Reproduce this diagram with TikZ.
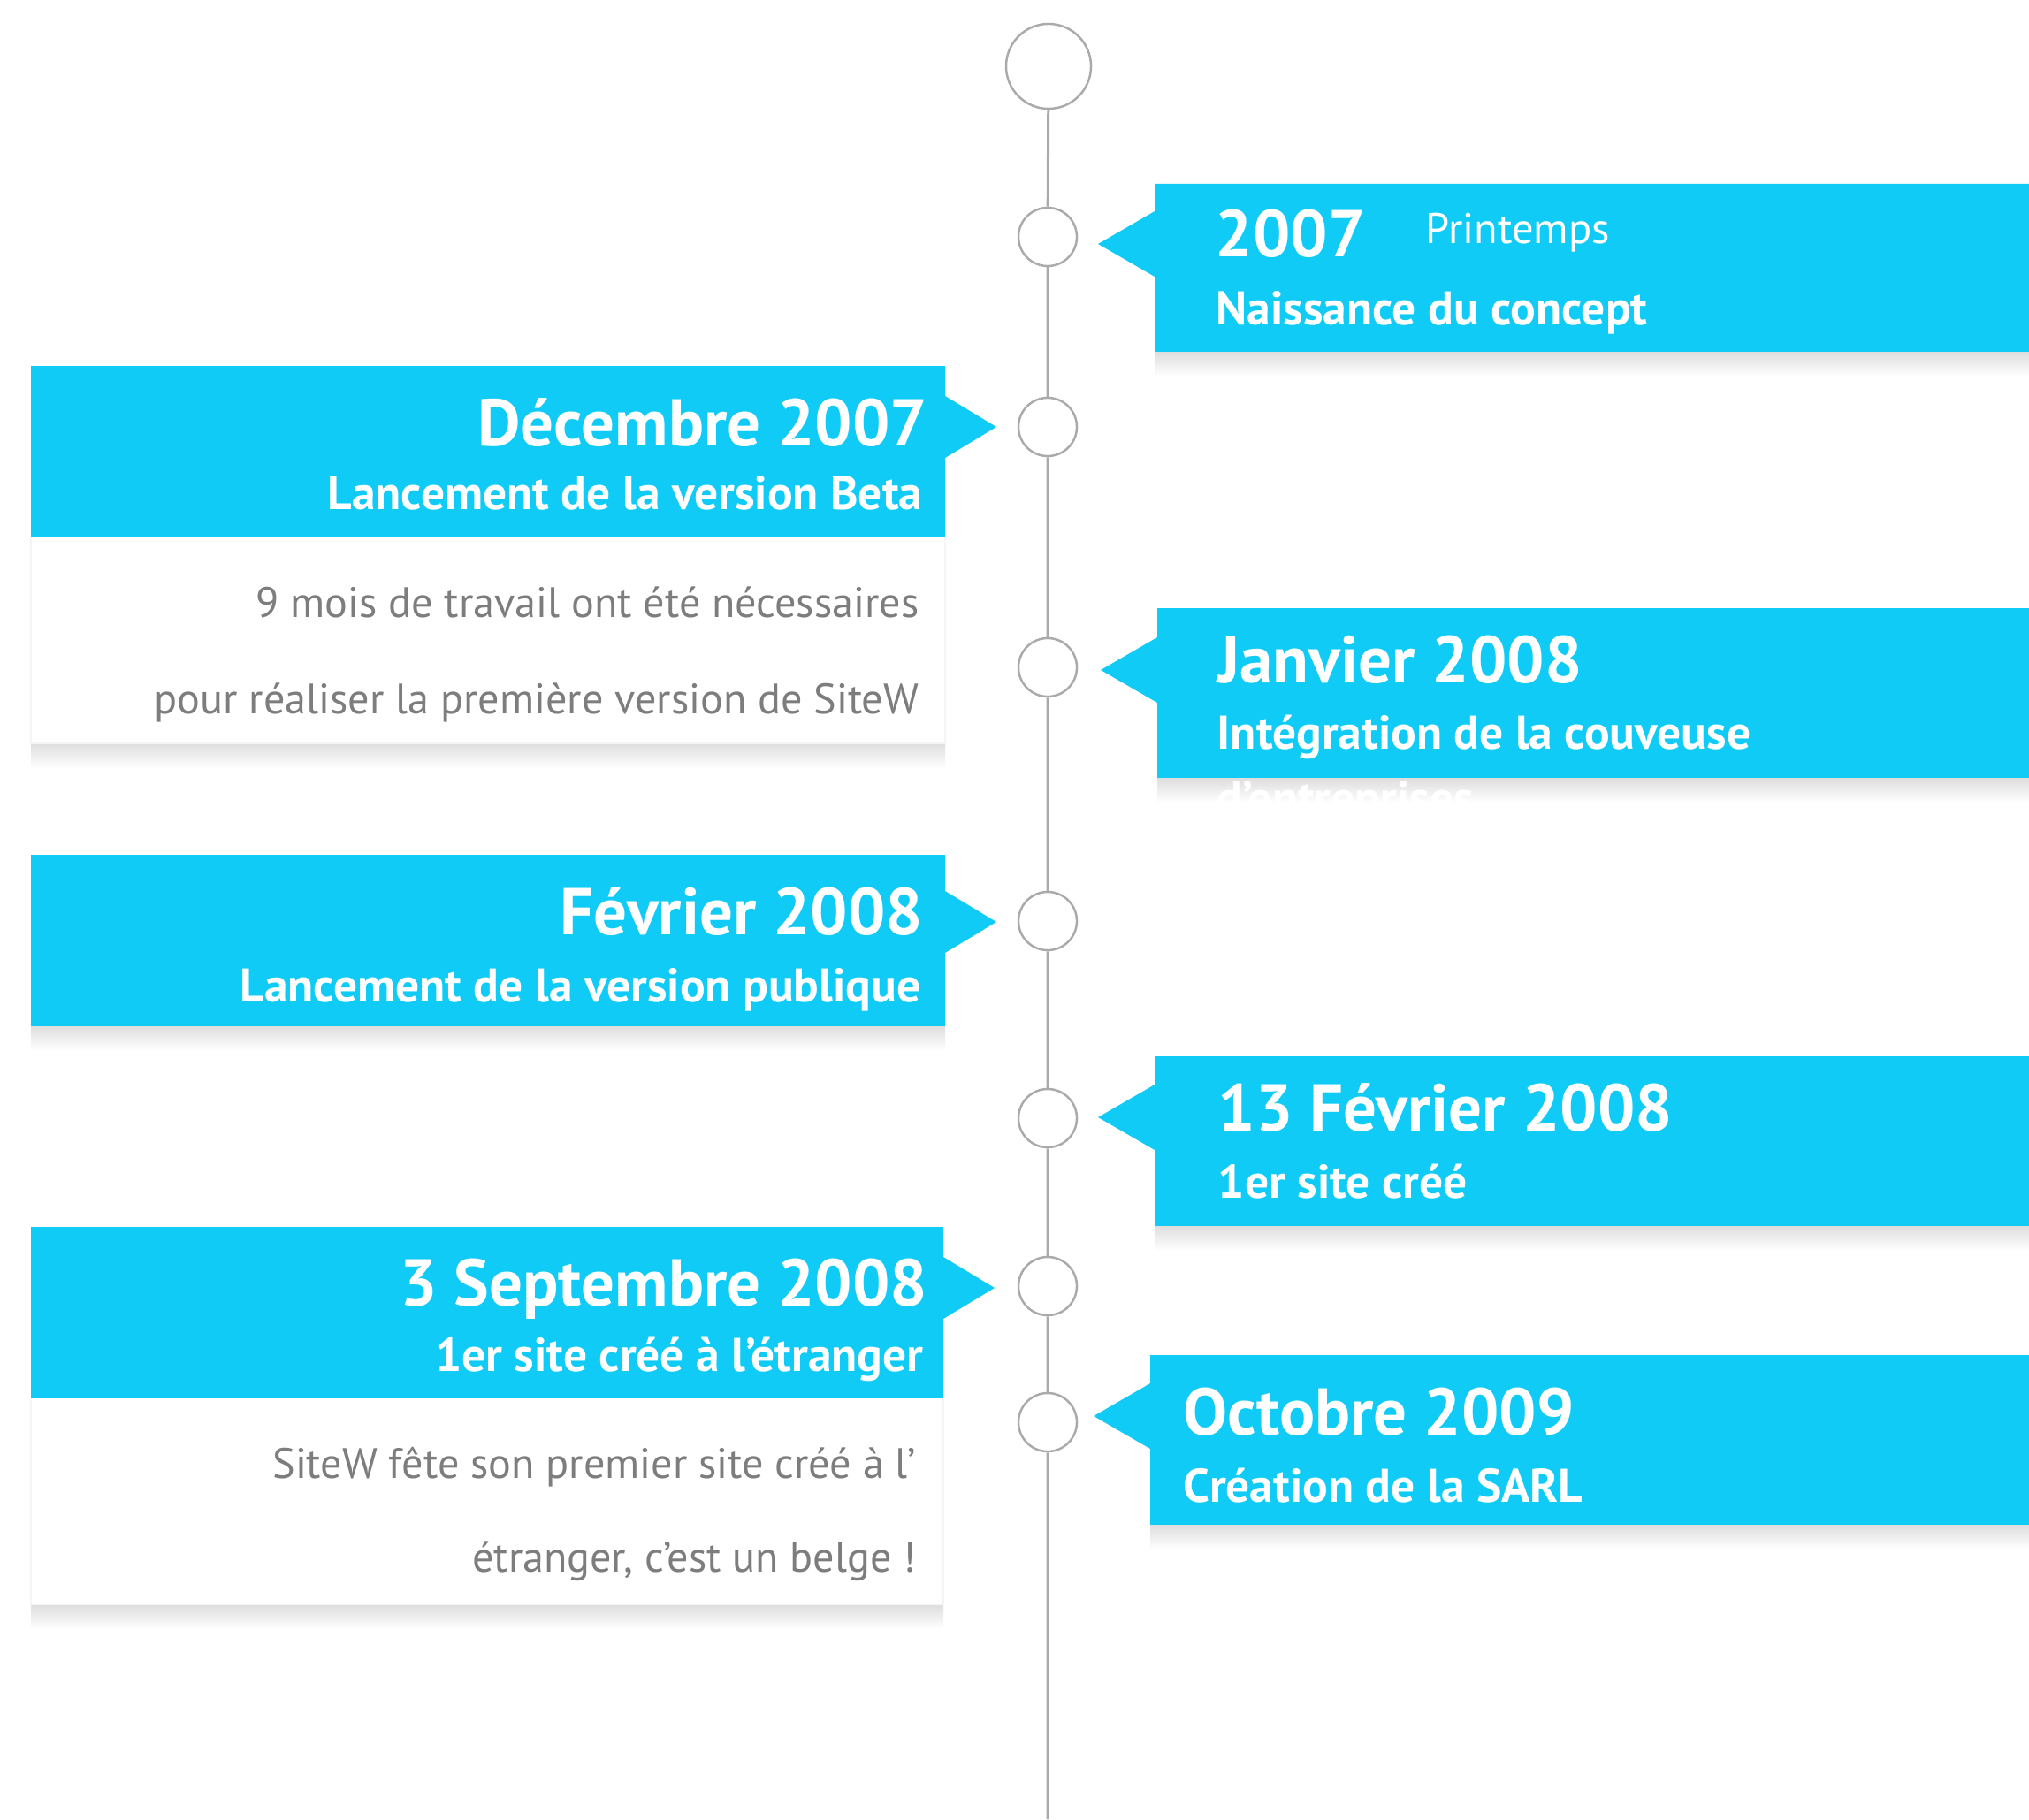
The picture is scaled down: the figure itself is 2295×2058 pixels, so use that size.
\documentclass[tikz,border=0pt]{standalone}
\usepackage{fontspec}
\setmainfont{PT Sans}
\usepackage{xcolor}
\usetikzlibrary{calc}
\definecolor{sitewblue}{RGB}{16,203,246}
\definecolor{linegray}{RGB}{170,170,170}
\definecolor{bodygray}{RGB}{125,125,125}
\tikzset{
	dot/.style={circle,draw=linegray,line width=0.7pt,fill=white,minimum size=0.66cm,inner sep=0pt},
	bigdot/.style={dot,minimum size=0.96cm},
	tl/.style={draw=linegray,line width=0.85pt},
	datetxt/.style={text=white,font=\fontsize{21.3}{25}\selectfont\bfseries,inner sep=0pt},
	subtxt/.style={text=white,font=\fontsize{15.2}{18}\selectfont\bfseries,inner sep=0pt},
	seasontxt/.style={text=white,font=\fontsize{13.8}{16}\selectfont,inner sep=0pt},
	bodytxt/.style={text=bodygray,font=\fontsize{13.7}{16}\selectfont,inner sep=0pt},
	shadow/.style={top color=black!13,bottom color=white,draw=none}
}

\begin{document}
\begin{tikzpicture}[x=0.01cm,y=-0.01cm]
	\useasboundingbox (0,0) rectangle (2295,2058);
	\fill[white] (0,0) rectangle (2295,2058);

	% boxes on the right
	\foreach \l/\t/\b/\ty in {1306/208/398/276,1309/688/880/758,1306/1195/1387/1264,1301/1533/1725/1602} {
		\fill[sitewblue] (\l,\t) -- (2295,\t) -- (2295,\b) -- (\l,\b) -- (\l,\ty+37) -- (\l-64,\ty) -- (\l,\ty-37) -- cycle;
		\shade[shadow] (\l,\b) rectangle (2295,\b+28);
	}
	% boxes on the left
	\foreach \r/\t/\b/\ty in {1069/414/608/483,1069/967/1161/1043,1067/1388/1582/1457} {
		\fill[sitewblue] (35,\t) -- (\r,\t) -- (\r,\ty-35) -- (\r+58,\ty) -- (\r,\ty+35) -- (\r,\b) -- (35,\b) -- cycle;
	}
	\shade[shadow] (35,1161) rectangle (1069,1189);
	% white panels
	\foreach \r/\t/\b in {1069/608/841,1067/1582/1815} {
		\shade[shadow] (35,\b) rectangle (\r,\b+28);
		\fill[white] (35,\t) rectangle (\r,\b);
		\draw[black!4,line width=0.3pt] (35,\t) -- (35,\b) -- (\r,\b) -- (\r,\t);
	}

	% timeline
	\node[bigdot] (c0) at (1186,75) {};
	\foreach \n/\y in {1/268,2/483,3/755,4/1042,5/1265,6/1455,7/1609}
		\node[dot] (c\n) at (1185,\y) {};
	\coordinate (tend) at (1185,2058);
	\draw[tl] (c0) -- (c1) -- (c2) -- (c3) -- (c4) -- (c5) -- (c6) -- (c7) -- (tend);

	% texts
	\node[datetxt,anchor=base west] (t2007) at (1374,291) {2007};
	\node[seasontxt,anchor=base west] (spring) at (1612,276) {Printemps};
	\node[subtxt,anchor=base west] (s2007) at (1375,367) {Naissance du concept};

	\node[datetxt,anchor=base east] (tdec) at (1050,504) {Décembre 2007};
	\node[subtxt,anchor=base east] (sdec) at (1044,576) {Lancement de la version Beta};
	\node[bodytxt,anchor=base east] (bdec1) at (1040,698) {9 mois de travail ont été nécessaires};
	\node[bodytxt,anchor=base east] (bdec2) at (1040,807) {pour réaliser la première version de SiteW};

	\node[datetxt,anchor=base west] (tjan) at (1377,772) {Janvier 2008};
	\node[subtxt,anchor=base west] (sjan) at (1376,847) {Intégration de la couveuse};
	\node[subtxt,anchor=base west] (sjan2) at (1376,921) {d’entreprises};

	\node[datetxt,anchor=base east] (tfev) at (1045,1057) {Février 2008};
	\node[subtxt,anchor=base east] (sfev) at (1042,1133) {Lancement de la version publique};

	\node[datetxt,anchor=base west] (tfev13) at (1377,1279) {13 Février 2008};
	\node[subtxt,anchor=base west] (sfev13) at (1377,1355) {1er site créé};

	\node[datetxt,anchor=base east] (tsep) at (1050,1477) {3 Septembre 2008};
	\node[subtxt,anchor=base east] (ssep) at (1045,1551) {1er site créé à l’étranger};
	\node[bodytxt,anchor=base east] (bsep1) at (1037,1672) {SiteW fête son premier site créé à l’};
	\node[bodytxt,anchor=base east] (bsep2) at (1037,1778) {étranger, c’est un belge !};

	\node[datetxt,anchor=base west] (toct) at (1338,1623) {Octobre 2009};
	\node[subtxt,anchor=base west] (soct) at (1338,1699) {Création de la SARL};
\end{tikzpicture}
\end{document}
